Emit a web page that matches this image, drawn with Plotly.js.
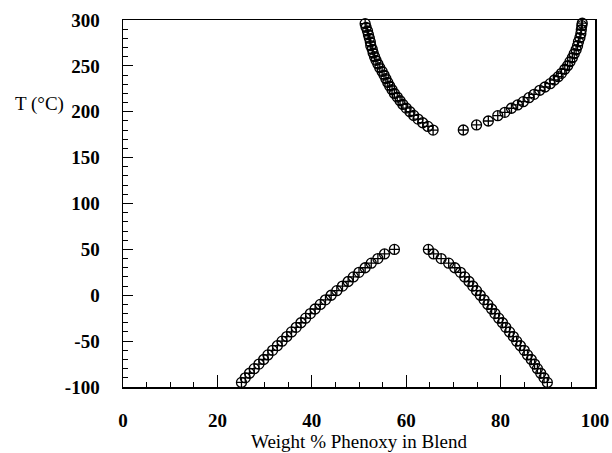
<!DOCTYPE html>
<html>
<head>
<meta charset="utf-8">
<script src="https://cdn.plot.ly/plotly-3.0.1.min.js"></script>
<style>html,body{margin:0;padding:0;background:#fff;}#chart{width:612px;height:453px;}</style>
</head>
<body>
<div id="chart"></div>
<script>
// Lower-left branch: T (°C) and weight % phenoxy
const lowLeftT = [-95,-90,-85,-80,-75,-70,-65,-60,-55,-50,-45,-40,-35,-30,-25,-20,-15,-10,-5,0,5,10,15,20,25,30,35,40,45,50];
const lowLeftX = [25.1,25.9,26.8,27.8,28.8,29.8,30.7,31.7,32.7,33.7,34.7,35.7,36.7,37.7,38.7,39.7,40.7,41.8,42.9,44.1,45.3,46.5,47.7,48.8,50.0,51.3,52.6,54.0,55.4,57.5];

// Lower-right branch
const lowRightT = [50,45,40,35,30,25,20,15,10,5,0,-5,-10,-15,-20,-25,-30,-35,-40,-45,-50,-55,-60,-65,-70,-75,-80,-85,-90,-95];
const lowRightX = [64.7,65.8,67.4,69.0,70.3,71.5,72.4,73.3,74.1,74.9,75.7,76.5,77.3,78.1,78.8,79.6,80.4,81.1,81.9,82.7,83.4,84.2,85.0,85.7,86.5,87.2,87.8,88.5,89.2,89.9];

// Upper-left branch
const upLeftT = [180,184,188,192,196,200,204,208,212,216,220,224,228,232,236,240,244,248,252,256,260,264,268,272,276,280,284,288,292,296];
const upLeftX = [65.7,64.6,63.5,62.5,61.6,60.8,60.0,59.3,58.7,58.1,57.5,57.0,56.5,56.1,55.7,55.3,54.9,54.4,54.0,53.6,53.3,53.0,52.8,52.5,52.4,52.2,52.0,51.8,51.5,51.3];

// Upper-right branch
const upRightT = [180.1,185.6,189.9,195.7,199.4,203.8,207.4,211.0,215.3,219.0,223.4,227.0,230.6,234.6,238.2,241.9,246.3,250.2,254.6,258.9,263.3,267.6,272.0,276.4,280.7,285.1,289.4,293.8,296.5];
const upRightX = [72.1,74.9,77.4,79.4,80.9,82.3,83.6,84.8,86.0,87.1,88.3,89.4,90.5,91.4,92.2,92.9,93.6,94.2,94.7,95.2,95.6,96.0,96.3,96.5,96.8,97.0,97.1,97.2,97.3];

// Axis ticks and titles
const xTickVals = [0,20,40,60,80,100];
const yTickVals = [-100,-50,0,50,100,150,200,250,300];
const xTitle = 'Weight % Phenoxy in Blend';
const yTitle = 'T (°C)';

const marker = {symbol:'circle-cross-open', size:10, color:'#000', line:{width:1.3, color:'#000'}};
const mk = (x,y) => ({x:x, y:y, type:'scatter', mode:'markers', marker:marker, showlegend:false, hoverinfo:'x+y', cliponaxis:false});

const data = [mk(lowLeftX, lowLeftT), mk(lowRightX, lowRightT), mk(upLeftX, upLeftT), mk(upRightX, upRightT)];

const serif = 'Liberation Serif, Times New Roman, serif';
const layout = {
  width:612, height:453,
  margin:{l:123, r:17, t:20, b:66},
  paper_bgcolor:'#fff', plot_bgcolor:'#fff',
  showlegend:false,
  xaxis:{
    range:[0,100], tickvals:xTickVals, ticktext:xTickVals.map(String),
    ticks:'inside', ticklen:12, tickwidth:1, tickcolor:'#000',
    minor:{dtick:5, tick0:0, ticks:'inside', ticklen:5, tickwidth:1, tickcolor:'#000', showgrid:false},
    showline:true, linecolor:'#000', linewidth:1.5, mirror:true,
    showgrid:false, zeroline:false,
    tickfont:{family:serif, size:19, weight:'bold', color:'#000'},
    ticklabelstandoff:16
  },
  yaxis:{
    range:[-100,300], tickvals:yTickVals, ticktext:yTickVals.map(String),
    ticks:'inside', ticklen:10, tickwidth:1, tickcolor:'#000',
    minor:{dtick:10, tick0:0, ticks:'inside', ticklen:5, tickwidth:1, tickcolor:'#000', showgrid:false},
    showline:true, linecolor:'#000', linewidth:1.5, mirror:true,
    showgrid:false, zeroline:false,
    tickfont:{family:serif, size:19, weight:'bold', color:'#000'},
    ticklabelstandoff:18
  },
  annotations:[
    {text:yTitle, xref:'paper', yref:'paper', x:-0.234, y:0.77, xanchor:'left', yanchor:'middle',
     showarrow:false, font:{family:serif, size:19, color:'#000'}},
    {text:xTitle, xref:'paper', yref:'paper', x:0.5, y:-0.117, xanchor:'center', yanchor:'top',
     showarrow:false, borderpad:0, font:{family:serif, size:19, color:'#000'}}
  ]
};

Plotly.newPlot('chart', data, layout, {displayModeBar:false, staticPlot:true});
</script>
</body>
</html>
